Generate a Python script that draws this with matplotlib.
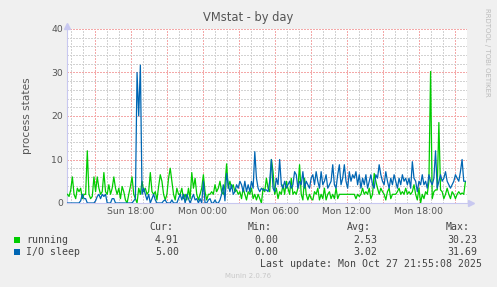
import pandas as pd
import numpy as np
import matplotlib.pyplot as plt
import matplotlib.dates as mdates
from matplotlib.ticker import MultipleLocator, FuncFormatter
from matplotlib.patches import Rectangle

# Samples (process counts), Sun 12:42 -> Mon 21:52
running = [
    2.0, 1.5, 3.0, 6.0, 2.0, 1.0, 3.4, 2.6, 3.4, 1.0, 2.0, 2.0, 12.0, 2.0, 1.0, 1.5, 6.0,
    2.6, 6.0, 3.4, 2.0, 2.6, 7.0, 2.6, 2.0, 4.2, 2.0, 3.4, 6.0, 3.4, 2.0, 3.4, 1.0,
    3.8, 2.6, 0.7, 0.0, 2.0, 3.8, 6.0, 2.0, 1.0, 0.0, 3.4, 2.0, 5.0, 2.6, 3.4, 2.0, 2.6, 7.0,
    2.6, 2.0, 2.6, 0.7, 3.8, 6.5, 5.0, 2.0, 0.7, 2.0, 5.7, 8.0, 5.0, 2.0, 0.7, 3.4, 2.0,
    2.0, 3.4, 1.0, 2.0, 0.7, 3.4, 1.0, 7.0, 3.4, 5.7, 2.0, 0.7, 2.0, 3.4, 6.5, 2.6, 0.7,
    2.0, 2.0, 2.6, 2.0, 4.2, 2.6, 3.4, 5.0, 2.6, 2.0, 4.2, 9.0, 3.4, 5.0, 3.4, 4.2, 2.6, 3.0,
    2.0, 2.6, 1.0, 3.4, 2.0, 0.7, 2.6, 2.0, 3.4, 1.0, 2.0, 0.7, 2.0, 1.0, 0.0, 3.4, 2.6,
    5.7, 3.4, 2.6, 10.0, 7.2, 2.0, 3.4, 1.0, 2.6, 2.0, 4.2, 2.0, 5.0, 3.4, 2.0, 5.7, 2.0, 2.6,
    2.0, 3.4, 8.8, 2.0, 0.7, 5.7, 2.0, 0.7, 2.0, 1.0, 0.7, 2.6, 2.0, 3.4, 0.7, 2.0, 1.0,
    3.4, 0.7, 2.0, 2.6, 1.0, 2.0, 1.0, 3.4, 1.0, 2.0, 2.0, 2.0, 2.0, 2.0, 2.0, 2.0, 2.0, 2.0,
    2.0, 1.0, 2.0, 1.5, 2.0, 3.4, 2.0, 2.6, 2.0, 3.4, 1.0, 2.0, 6.8, 5.0, 3.4, 2.0, 3.4,
    2.6, 2.0, 0.7, 2.6, 3.4, 1.0, 2.0, 2.0, 2.0, 2.6, 3.4, 2.0, 2.6, 2.0, 3.4, 2.0, 2.6, 2.0,
    2.6, 4.2, 2.0, 0.7, 3.4, 0.0, 2.0, 1.0, 2.6, 2.0, 5.0, 30.23, 1.0, 2.6, 3.0, 3.0, 18.5,
    3.0, 2.6, 1.0, 2.0, 3.4, 2.0, 1.0, 2.6, 2.0, 1.0, 2.0, 2.6, 2.0, 2.3, 2.0, 4.91,
]
io_sleep = [
    0.0, 0.0, 0.0, 0.0, 0.0, 0.0, 0.0, 0.0, 0.5, 2.0, 1.0, 1.0, 0.0, 0.0, 0.0, 0.0, 0.0,
    0.5, 1.5, 2.0, 1.0, 2.0, 1.5, 2.0, 0.0, 0.0, 0.0, 1.0, 1.0, 0.0, 0.0, 0.0, 0.0,
    0.0, 0.0, 0.0, 0.0, 0.0, 0.0, 0.0, 0.5, 1.0, 30.0, 20.0, 31.69, 2.0, 3.4, 2.0, 0.7, 2.0,
    0.0, 1.0, 2.0, 0.7, 0.0, 0.0, 0.0, 0.0, 0.5, 0.7, 0.0, 0.0, 0.0, 0.7, 0.0, 0.0, 0.0, 1.0,
    2.0, 0.7, 2.0, 0.0, 2.0, 1.0, 0.0, 1.0, 2.0, 0.7, 1.0, 0.0, 1.0, 0.0, 5.0, 0.0, 0.0,
    0.7, 1.0, 0.0, 0.0, 0.7, 0.0, 0.0, 0.7, 2.0, 4.2, 0.5, 6.8, 4.2, 2.6, 4.2, 2.0, 2.6, 4.2,
    3.4, 5.0, 4.2, 2.6, 5.0, 2.6, 4.2, 2.6, 5.0, 3.4, 11.8, 5.7, 3.4, 2.6, 3.4, 3.0, 3.0,
    3.0, 2.6, 5.0, 10.0, 3.4, 2.6, 5.7, 4.2, 10.0, 4.2, 3.4, 5.0, 3.4, 4.2, 5.0, 3.4, 4.2, 7.2,
    6.5, 3.4, 5.0, 4.2, 7.2, 3.4, 5.0, 4.2, 3.4, 5.7, 6.5, 4.2, 7.2, 5.0, 3.4, 7.2, 4.2,
    5.0, 6.5, 3.4, 4.2, 5.0, 8.8, 4.2, 3.4, 6.5, 8.8, 4.2, 5.7, 8.8, 5.0, 3.4, 7.2, 5.0, 6.5,
    5.7, 7.2, 4.2, 6.5, 3.4, 5.7, 4.2, 6.5, 3.4, 5.0, 6.5, 4.2, 3.4, 6.5, 5.7, 8.8, 6.5,
    5.0, 4.2, 7.2, 5.0, 3.4, 5.7, 4.2, 6.5, 5.0, 3.4, 5.7, 4.2, 6.5, 5.0, 5.7, 4.2, 5.7, 3.4,
    9.5, 5.7, 5.0, 2.6, 5.0, 4.2, 6.5, 4.2, 5.0, 3.4, 6.5, 5.0, 4.2, 5.7, 12.0, 3.4, 5.0,
    6.5, 5.0, 5.7, 7.2, 5.0, 4.2, 3.4, 4.2, 5.0, 6.5, 5.7, 5.0, 7.2, 10.0, 5.0, 5.0,
]
times = pd.date_range('2025-10-26 12:42', '2025-10-27 21:52', periods=len(running))

# legend table
labels = ['running', 'I/O sleep']
colors = ['#00CC00', '#0066B3']
cur = ['4.91', '5.00']
mins = ['0.00', '0.00']
avgs = ['2.53', '3.02']
maxs = ['30.23', '31.69']

W, H = 497, 287
fig = plt.figure(figsize=(W / 100, H / 100), dpi=100, facecolor='#F0F0F0')
ax = fig.add_axes([67 / W, 1 - 203 / H, 400 / W, 174 / H])
ax.set_facecolor('white')

ax.plot(times, running, color=colors[0], linewidth=0.9, zorder=3)
ax.plot(times, io_sleep, color=colors[1], linewidth=0.9, zorder=3)

ax.set_xlim(pd.Timestamp('2025-10-26 12:40'), pd.Timestamp('2025-10-27 22:00'))
ax.set_ylim(0, 40)

# x: labels every 6h, red grid every 3h, grey grid every hour
ax.xaxis.set_major_locator(mdates.HourLocator(byhour=range(0, 24, 3)))
ax.xaxis.set_minor_locator(mdates.HourLocator())


def fmt_time(x, pos):
    d = mdates.num2date(x)
    if d.hour % 6 == 0:
        return d.strftime('%a %H:%M')
    return ''


ax.xaxis.set_major_formatter(FuncFormatter(fmt_time))
ax.yaxis.set_major_locator(MultipleLocator(10))
ax.yaxis.set_minor_locator(MultipleLocator(2))

ax.grid(which='major', color='#F4A8A8', linestyle=(0, (1.4, 1.4)), linewidth=0.72,
        antialiased=False, zorder=1)
ax.grid(which='minor', color='#D2D2D2', linestyle=(0, (1.4, 1.4)), linewidth=0.72,
        antialiased=False, zorder=0)
ax.set_axisbelow(True)

ax.tick_params(which='both', length=0, labelsize=6.7, labelcolor='#555555', pad=3)

for s in ['top', 'right']:
    ax.spines[s].set_visible(False)
for s in ['left', 'bottom']:
    ax.spines[s].set_color('#C8C8F0')
    ax.spines[s].set_linewidth(0.8)

# axis arrows like rrdtool
ax.plot([0], [1.02], marker='^', color='#C8C8F0', markersize=4, transform=ax.transAxes, clip_on=False)
ax.plot([1.01], [0], marker='>', color='#C8C8F0', markersize=4, transform=ax.transAxes, clip_on=False)

ax.set_ylabel('process states', fontsize=7.6, color='#555555', labelpad=14)
fig.text(248.5 / W, 1 - 18 / H, 'VMstat - by day', ha='center', va='center', fontsize=8.3, color='#555555')
fig.text(487 / W, 1 - 52 / H, 'RRDTOOL / TOBI OETIKER', rotation=270, ha='center', va='center',
         fontsize=5, color='#BBBBBB')

# legend block
mono = dict(family='DejaVu Sans Mono', fontsize=7.1, color='#444444', va='center')
header_y = 1 - 227.5 / H
fig.text(173 / W, header_y, 'Cur:', ha='right', **mono)
fig.text(272 / W, header_y, 'Min:', ha='right', **mono)
fig.text(371 / W, header_y, 'Avg:', ha='right', **mono)
fig.text(470 / W, header_y, 'Max:', ha='right', **mono)

row_y = [240, 252]
for i in range(len(labels)):
    y = 1 - row_y[i] / H
    fig.add_artist(Rectangle((14 / W, y - 3 / H), 6 / W, 6 / H, transform=fig.transFigure,
                             facecolor=colors[i], edgecolor='none'))
    fig.text(26.5 / W, y, labels[i], ha='left', **mono)
    fig.text(179 / W, y, cur[i], ha='right', **mono)
    fig.text(278 / W, y, mins[i], ha='right', **mono)
    fig.text(377 / W, y, avgs[i], ha='right', **mono)
    fig.text(477 / W, y, maxs[i], ha='right', **mono)

fig.text(482.5 / W, 1 - 264 / H, 'Last update: Mon Oct 27 21:55:08 2025', ha='right', **mono)
fig.text(248 / W, 1 - 276 / H, 'Munin 2.0.76', ha='center', va='center', fontsize=5, color='#C8C8C8')

plt.savefig('out.png', dpi=100, facecolor=fig.get_facecolor())
